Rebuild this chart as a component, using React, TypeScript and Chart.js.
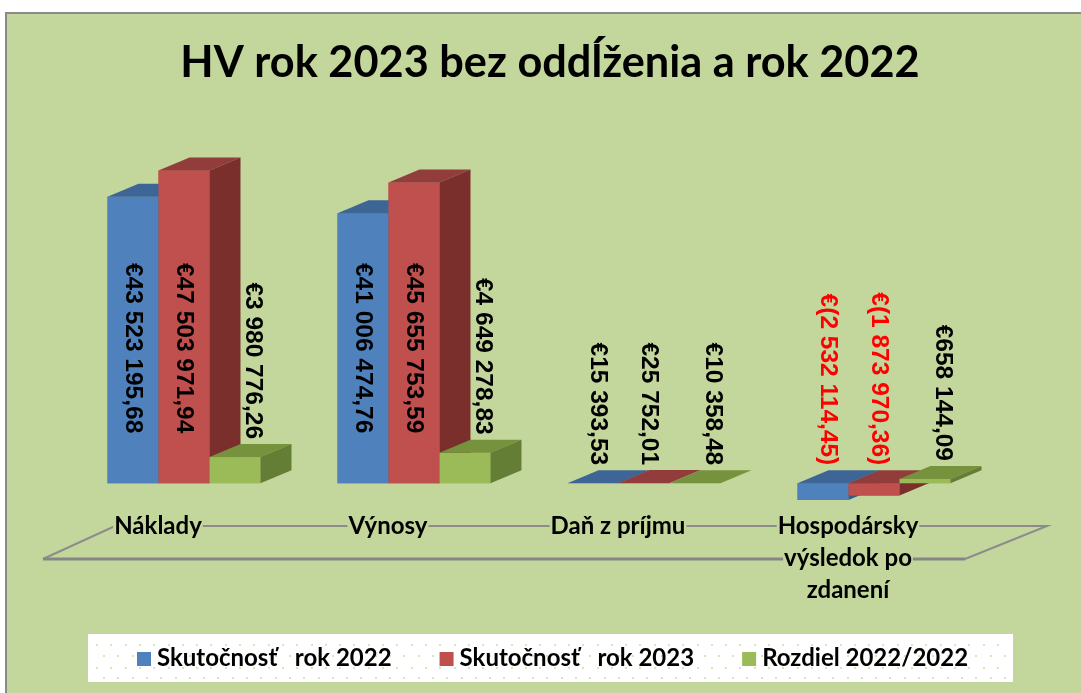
import React, { useEffect, useRef } from "react";
import { Chart, registerables } from "chart.js";

Chart.register(...registerables);

// ---------- data ----------
const TITLE = "HV rok 2023 bez oddĺženia a rok 2022";
const categories: string[][] = [
  ["Náklady"],
  ["Výnosy"],
  ["Daň z príjmu"],
  ["Hospodársky", "výsledok po", "zdanení"],
];
const seriesNames = ["Skutočnosť   rok 2022", "Skutočnosť   rok 2023", "Rozdiel 2022/2022"];
const actual2022 = [43523195.68, 41006474.76, 15393.53, -2532114.45];
const actual2023 = [47503971.94, 45655753.59, 25752.01, -1873970.36];
const difference2022 = [3980776.26, 4649278.83, 10358.48, 658144.09];

// ---------- style ----------
const FRONT = ["#4f81bd", "#c0504d", "#9bbb59"];
const TOP = ["#3d6595", "#923d3b", "#76923c"];
const SIDE = ["#375c88", "#7b2f2d", "#657e36"];
const BG = "#c3d69b";
const DX = 31;
const DY = 13;
const LATO = "Lato, 'Open Sans', 'DejaVu Sans', sans-serif";
const LABEL_FONT = "'Liberation Sans', Arial, 'DejaVu Sans', sans-serif";

function fmt(v: number): string {
  const a = Math.abs(v).toFixed(2).split(".");
  const g = a[0].replace(/\B(?=(\d{3})+(?!\d))/g, " ");
  const s = g + "," + a[1];
  return v < 0 ? "€(" + s + ")" : "€" + s;
}

const plugin3d = {
  id: "plugin3d",
  beforeDraw(chart: any) {
    const ctx = chart.ctx as CanvasRenderingContext2D;
    const W = chart.width;
    const H = chart.height;
    ctx.save();
    ctx.fillStyle = "#ffffff";
    ctx.fillRect(0, 0, W, H);
    ctx.fillStyle = BG;
    ctx.fillRect(5, 12, W - 5, H - 12);
    ctx.strokeStyle = "#8a8a8a";
    ctx.lineWidth = 2;
    ctx.beginPath();
    ctx.moveTo(6, H);
    ctx.lineTo(6, 13);
    ctx.lineTo(W, 13);
    ctx.stroke();

    // title
    ctx.fillStyle = "#000";
    ctx.font = "bold 40px " + LATO;
    const tw = ctx.measureText(TITLE).width;
    const size = Math.max(30, Math.min(48, (40 * 739) / tw));
    ctx.font = "bold " + size.toFixed(1) + "px " + LATO;
    ctx.textAlign = "center";
    ctx.textBaseline = "alphabetic";
    ctx.fillText(TITLE, 550, 77);

    // legend box
    ctx.fillStyle = "#ffffff";
    ctx.fillRect(88, 634, 925, 48);
    ctx.fillStyle = "#d9e5c0";
    const rows = [644, 655, 666.5, 677];
    rows.forEach((ry, r) => {
      for (let x = 96 + (r % 2 ? 7 : 0); x < 1010; x += 14.3) {
        ctx.fillRect(Math.round(x), Math.round(ry), 2, 2);
      }
    });
    ctx.font = "bold 24px " + LATO;
    ctx.textAlign = "left";
    let lx = 137;
    chart.data.datasets.forEach((ds: any, i: number) => {
      ctx.fillStyle = FRONT[i];
      ctx.fillRect(lx, 652, 14, 14);
      ctx.fillStyle = "#000";
      ctx.fillText(ds.label, lx + 20, 666);
      lx += 20 + ctx.measureText(ds.label).width + 48;
    });
    ctx.restore();
  },
  beforeDatasetsDraw(chart: any) {
    const ctx = chart.ctx as CanvasRenderingContext2D;
    const a = chart.chartArea;
    const xs = chart.scales.x;
    ctx.save();
    // floor
    ctx.strokeStyle = "#8c8c8c";
    ctx.lineWidth = 2;
    ctx.beginPath();
    ctx.moveTo(a.right - 24, a.bottom);
    ctx.lineTo(a.right + 58, a.bottom - 33);
    ctx.lineTo(a.left + 46, a.bottom - 33);
    ctx.lineTo(a.left - 26, a.bottom);
    ctx.stroke();
    ctx.lineWidth = 3;
    ctx.strokeStyle = "#868686";
    ctx.beginPath();
    ctx.moveTo(a.left - 26, a.bottom);
    ctx.lineTo(a.right - 24, a.bottom);
    ctx.stroke();
    // category labels
    ctx.font = "bold 24px " + LATO;
    ctx.textAlign = "center";
    ctx.textBaseline = "alphabetic";
    chart.data.labels.forEach((lab: string[], i: number) => {
      const cx = xs.getPixelForValue(i) - 26;
      lab.forEach((line, k) => {
        const by = a.bottom - 25 + k * 32;
        const w = ctx.measureText(line).width;
        ctx.fillStyle = BG;
        ctx.fillRect(cx - w / 2 - 1, by - 19, w + 2, 25);
        ctx.fillStyle = "#000";
        ctx.fillText(line, cx, by);
      });
    });
    ctx.restore();
  },
  afterDatasetsDraw(chart: any) {
    const ctx = chart.ctx as CanvasRenderingContext2D;
    const nCat = chart.data.labels.length;
    const nDs = chart.data.datasets.length;
    ctx.save();
    const poly = (pts: number[][], color: string) => {
      ctx.fillStyle = color;
      ctx.beginPath();
      ctx.moveTo(pts[0][0], pts[0][1]);
      for (let k = 1; k < pts.length; k++) ctx.lineTo(pts[k][0], pts[k][1]);
      ctx.closePath();
      ctx.fill();
    };
    for (let i = 0; i < nCat; i++) {
      for (let d = 0; d < nDs; d++) {
        const el = chart.getDatasetMeta(d).data[i];
        const p = el.getProps(["x", "y", "base", "width"], true);
        const L = p.x - p.width / 2;
        const R = p.x + p.width / 2;
        const yT = Math.min(p.y, p.base);
        const yB = Math.max(p.y, p.base);
        ctx.fillStyle = FRONT[d];
        ctx.fillRect(L, yT, R - L, yB - yT);
        poly([[L, yT], [L + DX, yT - DY], [R + DX, yT - DY], [R, yT]], TOP[d]);
        poly([[R, yT], [R + DX, yT - DY], [R + DX, yB - DY], [R, yB]], SIDE[d]);
      }
    }
    // data labels
    ctx.font = "bold 24px " + LABEL_FONT;
    const probe = ctx.measureText("€43 523 195,68").width;
    const fs = Math.max(16, Math.min(26, (24 * 170) / probe));
    ctx.font = "bold " + fs.toFixed(1) + "px " + LABEL_FONT;
    ctx.textBaseline = "middle";
    ctx.textAlign = "right";
    for (let d = 0; d < nDs; d++) {
      const ds = chart.data.datasets[d];
      chart.getDatasetMeta(d).data.forEach((el: any, i: number) => {
        const v = ds.data[i] as number;
        const p = el.getProps(["x", "y", "base", "width"], true);
        const txt = fmt(v);
        const w = ctx.measureText(txt).width;
        const h = p.base - p.y;
        let cx: number;
        let endY: number;
        if (v > 0 && h > w + 40) {
          cx = p.x;
          endY = p.base - 50;
        } else {
          cx = p.x + (d === 2 ? 18 : 5);
          endY = Math.min(p.y, p.base) - 18;
        }
        ctx.save();
        ctx.translate(cx, endY);
        ctx.rotate(Math.PI / 2);
        ctx.fillStyle = v < 0 ? "#ff0000" : "#000000";
        ctx.fillText(txt, 0, 0);
        ctx.restore();
      });
    }
    ctx.restore();
  },
};

export default function App() {
  const ref = useRef<HTMLCanvasElement | null>(null);
  useEffect(() => {
    if (!ref.current) return;
    const chart = new Chart(ref.current, {
      type: "bar",
      data: {
        labels: categories as any,
        datasets: [
          { label: seriesNames[0], data: actual2022, backgroundColor: FRONT[0] },
          { label: seriesNames[1], data: actual2023, backgroundColor: FRONT[1] },
          { label: seriesNames[2], data: difference2022, backgroundColor: FRONT[2] },
        ].map((d) => ({ ...d, borderWidth: 0, categoryPercentage: 0.665, barPercentage: 1 })),
      },
      options: {
        responsive: false,
        maintainAspectRatio: false,
        animation: false,
        devicePixelRatio: 1,
        layout: { padding: { left: 69, right: 92, top: 154, bottom: 134 } },
        scales: {
          x: { display: false, offset: true, grid: { display: false } },
          y: { display: false, min: -11500000, max: 50000000 },
        },
        plugins: {
          legend: { display: false },
          title: { display: false },
          tooltip: { enabled: false },
        },
      },
      plugins: [plugin3d],
    });
    return () => chart.destroy();
  }, []);
  return (
    <div style={{ position: "fixed", left: 0, top: 0, width: 1081, height: 693, background: "#fff" }}>
      <canvas ref={ref} width={1081} height={693} style={{ display: "block" }} />
    </div>
  );
}
